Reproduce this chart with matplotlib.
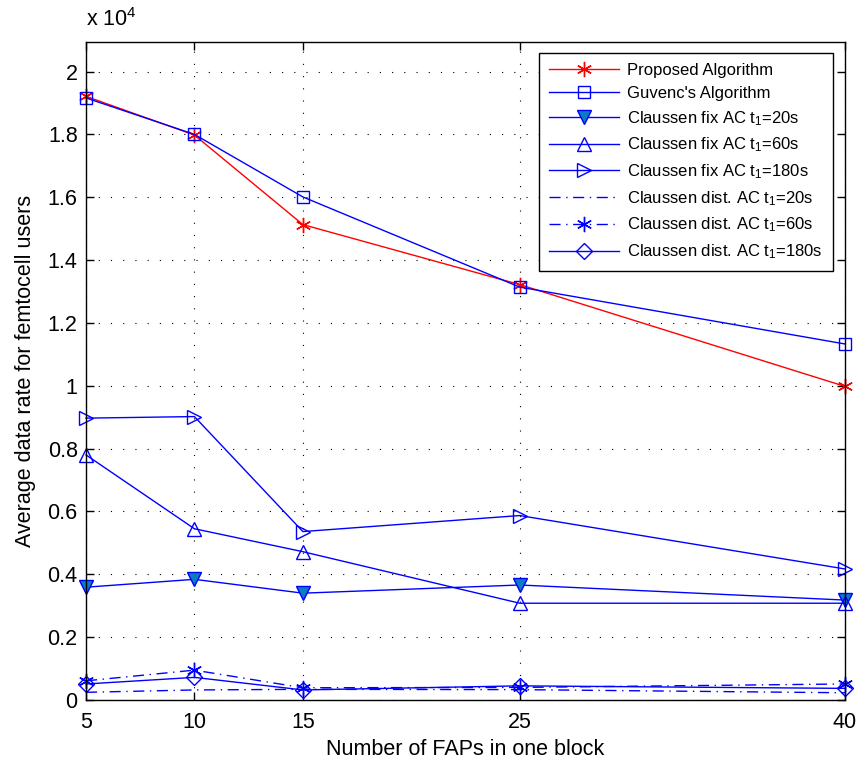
import numpy as np
import matplotlib
matplotlib.use('Agg')
import matplotlib.pyplot as plt
from matplotlib.ticker import FuncFormatter

plt.rcParams['font.family'] = ['Liberation Sans', 'DejaVu Sans']
plt.rcParams['mathtext.fontset'] = 'custom'
plt.rcParams['mathtext.rm'] = 'Liberation Sans'
plt.rcParams['mathtext.it'] = 'Liberation Sans:italic'

# number of FAPs per block
faps = [5, 10, 15, 25, 40]
xtick_labels = ['5', '10', '15', '25', '40']

# average data rate (raw values, plotted in units of 1e4)
proposed = [19210, 17980, 15130, 13220, 9980]
guvenc = [19160, 18000, 16010, 13140, 11330]
fix_20 = [3590, 3840, 3400, 3660, 3180]
fix_60 = [7800, 5450, 4720, 3080, 3080]
fix_180 = [8970, 9020, 5360, 5870, 4170]
dist_20 = [245, 320, 340, 330, 230]
dist_60 = [610, 950, 390, 400, 510]
dist_180 = [510, 720, 320, 450, 370]

yticks = np.arange(0, 2.01, 0.2)

scale = 1e4
blue = (0, 0, 1)
red = (1, 0, 0)
fill_blue = '#0a7cc3'

fig = plt.figure(figsize=(8.64, 7.67), dpi=100)
ax = fig.add_axes([86 / 864, 1 - 700 / 767, (845 - 86) / 864, (700 - 41.7) / 767])

x = np.array(faps)
lw = 1.0
common = dict(lw=lw, clip_on=False, zorder=3)
ax.plot(x, np.array(proposed) / scale, color=red, marker=(6, 2, 0), ms=11, mew=1.0,
        label='Proposed Algorithm', **common)
ax.plot(x, np.array(guvenc) / scale, color=blue, marker='s', ms=8, mfc='none', mew=1.0,
        label="Guvenc's Algorithm", **common)
ax.plot(x, np.array(fix_20) / scale, color=blue, marker='v', ms=10, mfc=fill_blue, mec=blue,
        mew=1.0, label='Claussen fix AC t$_1$=20s', **common)
ax.plot(x, np.array(fix_60) / scale, color=blue, marker='^', ms=10, mfc='none', mew=1.0,
        label='Claussen fix AC t$_1$=60s', **common)
ax.plot(x, np.array(fix_180) / scale, color=blue, marker='>', ms=10, mfc='none', mew=1.0,
        label='Claussen fix AC t$_1$=180s', **common)
ax.plot(x, np.array(dist_20) / scale, color=blue, ls=(0, (8, 4, 1, 4)),
        label='Claussen dist. AC t$_1$=20s', **common)
ax.plot(x, np.array(dist_60) / scale, color=blue, ls=(0, (8, 4, 1, 4)), marker=(6, 2, 0),
        ms=11, mew=1.0, label='Claussen dist. AC t$_1$=60s', **common)
ax.plot(x, np.array(dist_180) / scale, color=blue, marker='D', ms=8, mfc='none', mew=1.0,
        label='Claussen dist. AC t$_1$=180s', **common)

ax.set_xlim(5, 40)
ax.set_ylim(0, 2.095)
ax.set_xticks(faps)
ax.set_xticklabels(xtick_labels)
ax.set_yticks(yticks)
ax.yaxis.set_major_formatter(FuncFormatter(lambda v, p: '%g' % round(v, 1)))

ax.tick_params(direction='in', top=True, right=True, length=6, width=1.0, labelsize=15.5)
ax.tick_params(axis='x', pad=9)
ax.tick_params(axis='y', pad=6)
for s in ax.spines.values():
    s.set_linewidth(1.0)
    s.set_zorder(4)

ax.grid(True, color='black', linestyle=(0, (1, 10)), lw=0.8)

ax.set_xlabel('Number of FAPs in one block', fontsize=15.5, labelpad=4)
ax.set_ylabel('Average data rate for femtocell users', fontsize=15.5, labelpad=8)
ax.text(0, 1.016, r'x 10$^4$', transform=ax.transAxes, fontsize=15.5, ha='left', va='bottom')

leg = ax.legend(loc='upper right', bbox_to_anchor=(0.984, 0.983), borderaxespad=0,
                fontsize=12, fancybox=False, framealpha=1, edgecolor='black',
                handlelength=4.2, handletextpad=0.5, labelspacing=0.48, borderpad=0.6)
leg.get_frame().set_linewidth(1.0)
leg.set_zorder(5)

fig.savefig('out.png', dpi=100)
